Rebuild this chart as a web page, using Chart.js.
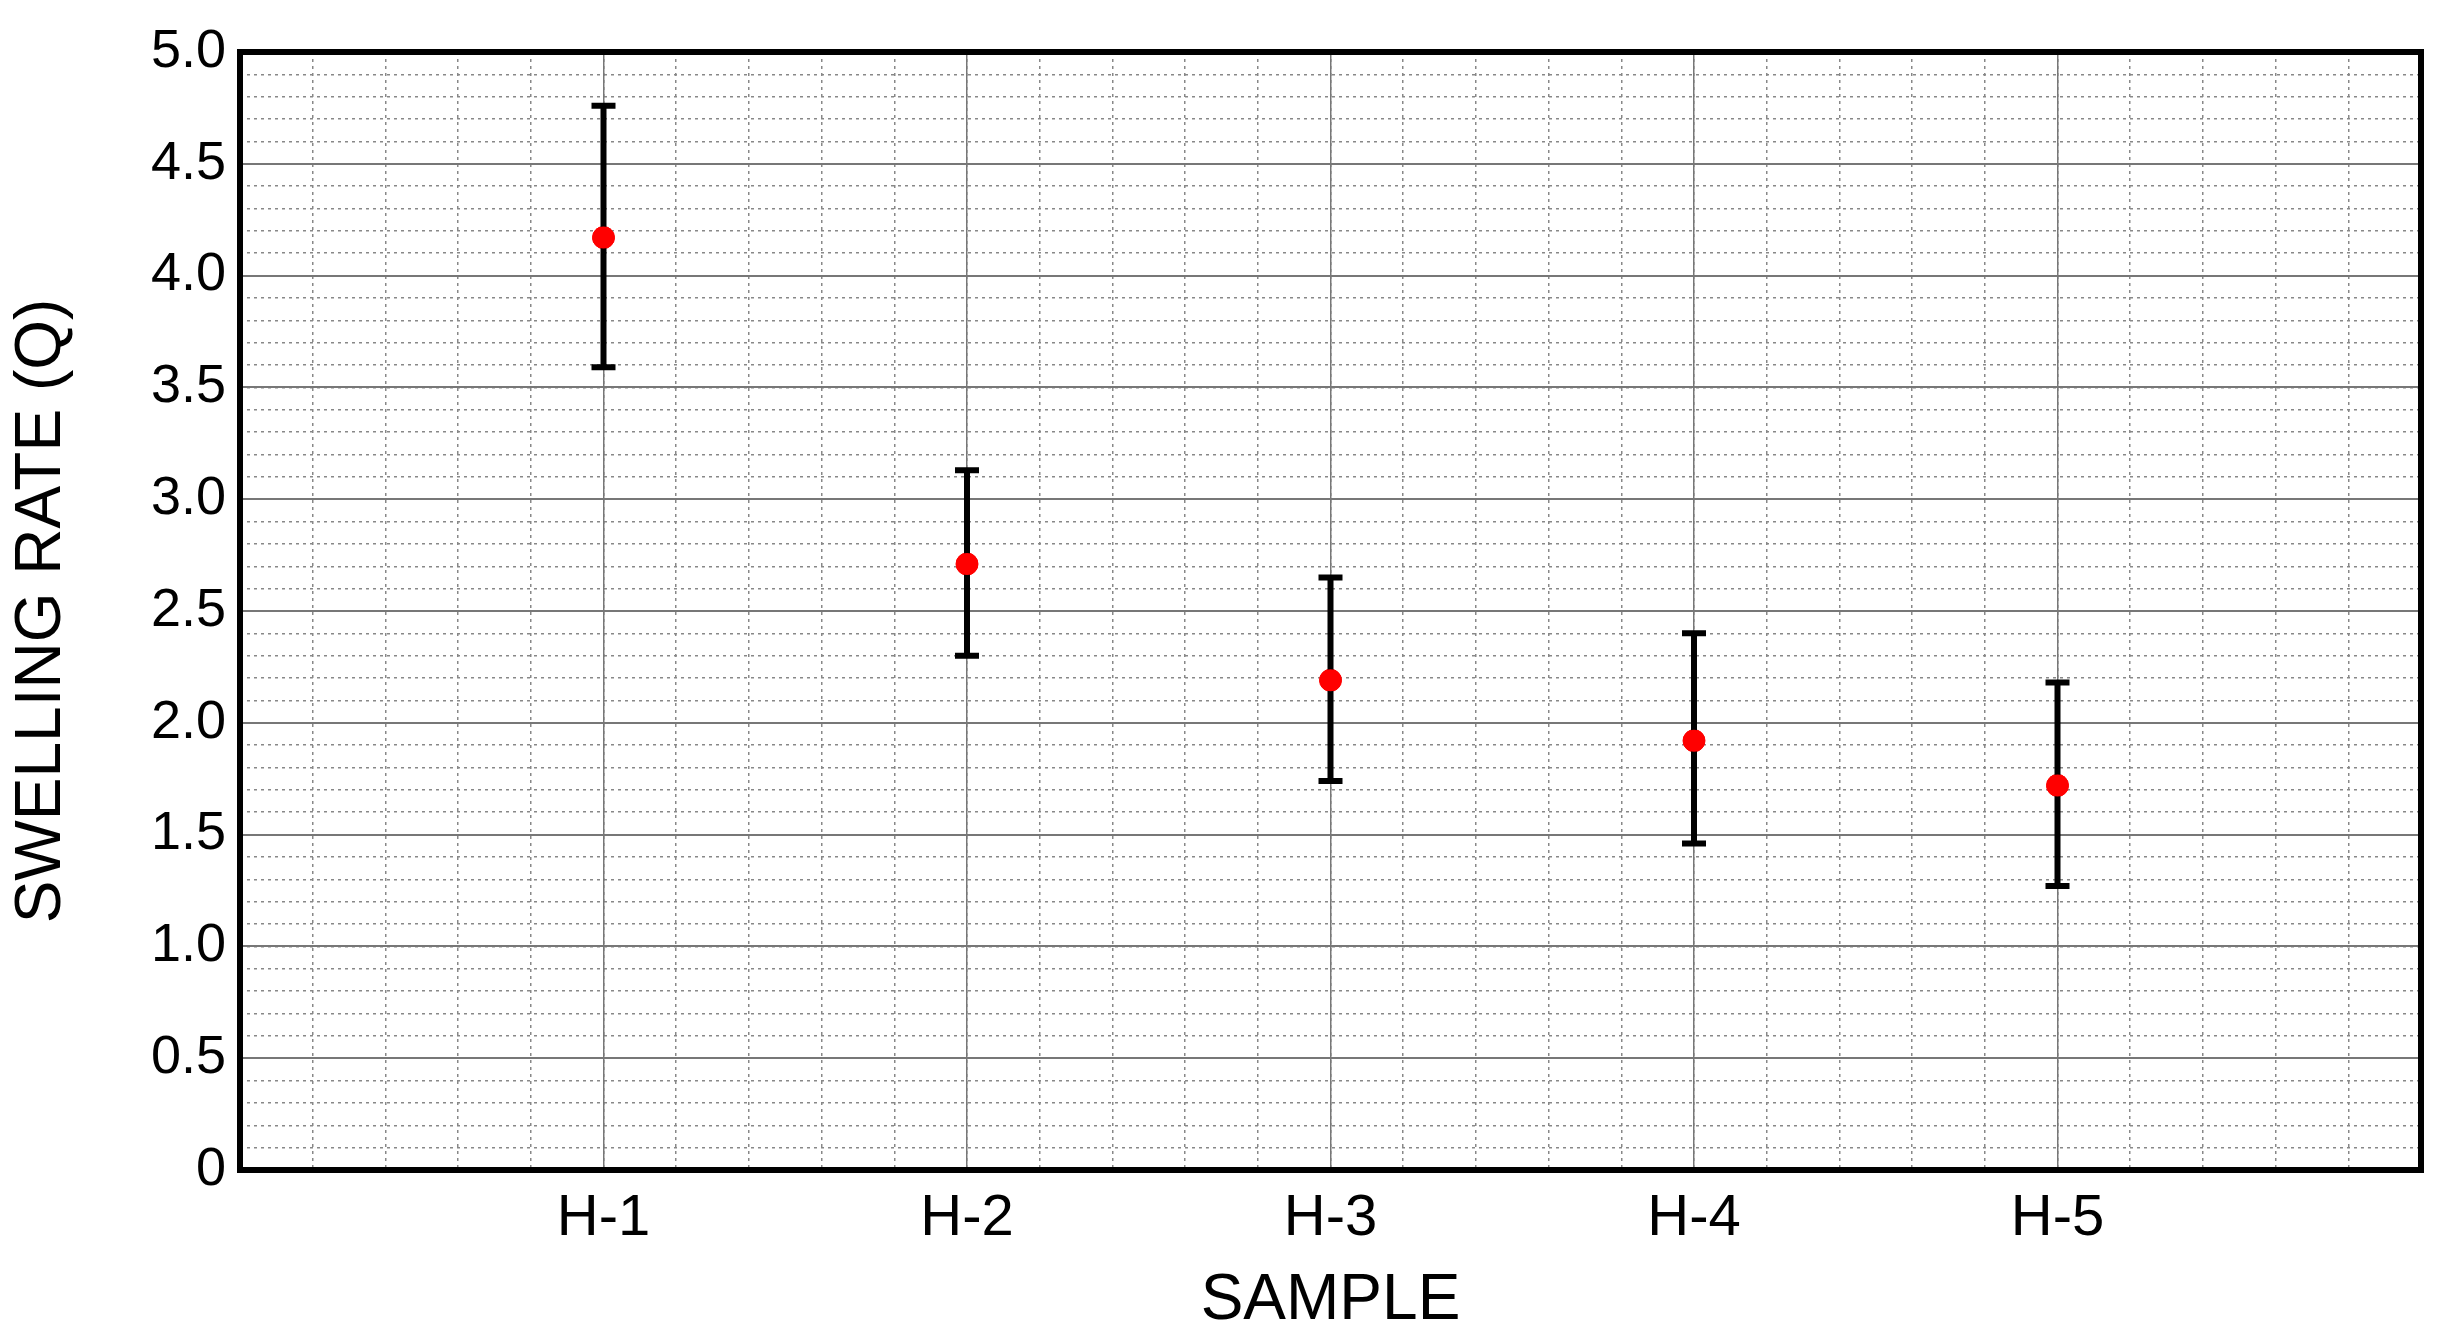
<!DOCTYPE html>
<html>
<head>
<meta charset="utf-8">
<script src="https://cdn.jsdelivr.net/npm/chart.js@4.4.0/dist/chart.umd.min.js"></script>
<style>
  html, body { margin: 0; padding: 0; background: #fff; }
  #wrap { width: 2451px; height: 1344px; }
</style>
</head>
<body>
<div id="wrap"><canvas id="grafico"></canvas></div>
<script>
// datos
const muestras = ['H-1', 'H-2', 'H-3', 'H-4', 'H-5'];
const posiciones = [1, 2, 3, 4, 5];
const tasaHinchamiento = [4.17, 2.71, 2.19, 1.92, 1.72];
const errorInferior = [3.59, 2.30, 1.74, 1.46, 1.27];
const errorSuperior = [4.76, 3.13, 2.65, 2.40, 2.18];
const etiquetasY = ['0', '0.5', '1.0', '1.5', '2.0', '2.5', '3.0', '3.5', '4.0', '4.5', '5.0'];

const puntos = posiciones.map((x, i) => ({ x: x, y: tasaHinchamiento[i] }));

// barras de error y marco negro
const pluginError = {
  id: 'barrasError',
  afterDatasetsDraw(chart) {
    const ctx = chart.ctx;
    const xs = chart.scales.x;
    const ys = chart.scales.y;
    ctx.save();
    ctx.strokeStyle = '#000';
    ctx.lineWidth = 6;
    posiciones.forEach((p, i) => {
      const px = xs.getPixelForValue(p);
      const top = ys.getPixelForValue(errorSuperior[i]);
      const bot = ys.getPixelForValue(errorInferior[i]);
      ctx.beginPath();
      ctx.moveTo(px, top); ctx.lineTo(px, bot);
      ctx.moveTo(px - 12, top); ctx.lineTo(px + 12, top);
      ctx.moveTo(px - 12, bot); ctx.lineTo(px + 12, bot);
      ctx.stroke();
    });
    // redibujar puntos encima
    ctx.fillStyle = '#ff0000';
    posiciones.forEach((p, i) => {
      ctx.beginPath();
      ctx.arc(xs.getPixelForValue(p), ys.getPixelForValue(tasaHinchamiento[i]), 11, 0, Math.PI * 2);
      ctx.fill();
    });
    const a = chart.chartArea;
    ctx.lineWidth = 6;
    ctx.strokeRect(a.left, a.top, a.right - a.left, a.bottom - a.top);
    ctx.restore();
  }
};

const fuente = "'Liberation Sans', Arial, sans-serif";

new Chart(document.getElementById('grafico'), {
  type: 'scatter',
  data: {
    datasets: [{
      data: puntos,
      backgroundColor: '#ff0000',
      borderColor: '#ff0000',
      pointRadius: 11
    }]
  },
  options: {
    responsive: true,
    maintainAspectRatio: false,
    animation: false,
    layout: { padding: { top: 52, right: 30, left: 0, bottom: 0 } },
    plugins: { legend: { display: false }, tooltip: { enabled: false } },
    scales: {
      xMenor: {
        type: 'linear', position: 'bottom', min: 0, max: 6,
        ticks: { stepSize: 0.2, display: false },
        grid: { color: '#888', lineWidth: 1.5, drawTicks: false },
        border: { display: false, dash: [3, 4] },
        afterFit(s) { s.height = 0; }
      },
      yMenor: {
        type: 'linear', position: 'left', min: 0, max: 5,
        ticks: { stepSize: 0.1, display: false },
        grid: { color: '#888', lineWidth: 1.5, drawTicks: false },
        border: { display: false, dash: [3, 4] },
        afterFit(s) { s.width = 0; }
      },
      x: {
        type: 'linear', position: 'bottom', min: 0, max: 6,
        ticks: {
          stepSize: 1,
          color: '#000',
          font: { family: fuente, size: 58 },
          padding: 14,
          callback: (v) => muestras[posiciones.indexOf(v)] || ''
        },
        grid: {
          color: (c) => (c.tick && c.tick.value >= 1 && c.tick.value <= 5) ? '#777' : 'rgba(0,0,0,0)',
          lineWidth: 1.5, drawTicks: false
        },
        border: { display: false },
        title: { display: true, text: 'SAMPLE', color: '#000', font: { family: fuente, size: 64 }, padding: { top: 0 } },
        afterFit(s) { s.height = 174; }
      },
      y: {
        type: 'linear', position: 'left', min: 0, max: 5,
        ticks: {
          stepSize: 0.5,
          color: '#000',
          font: { family: fuente, size: 54 },
          padding: 14,
          callback: (v) => etiquetasY[Math.round(v * 2)]
        },
        grid: { color: '#777', lineWidth: 2, drawTicks: false },
        border: { display: false },
        title: { display: true, text: 'SWELLING RATE (Q)', color: '#000', font: { family: fuente, size: 64 }, padding: { bottom: 10 } },
        afterFit(s) { s.width = 240; }
      }
    }
  },
  plugins: [pluginError]
});
</script>
</body>
</html>
